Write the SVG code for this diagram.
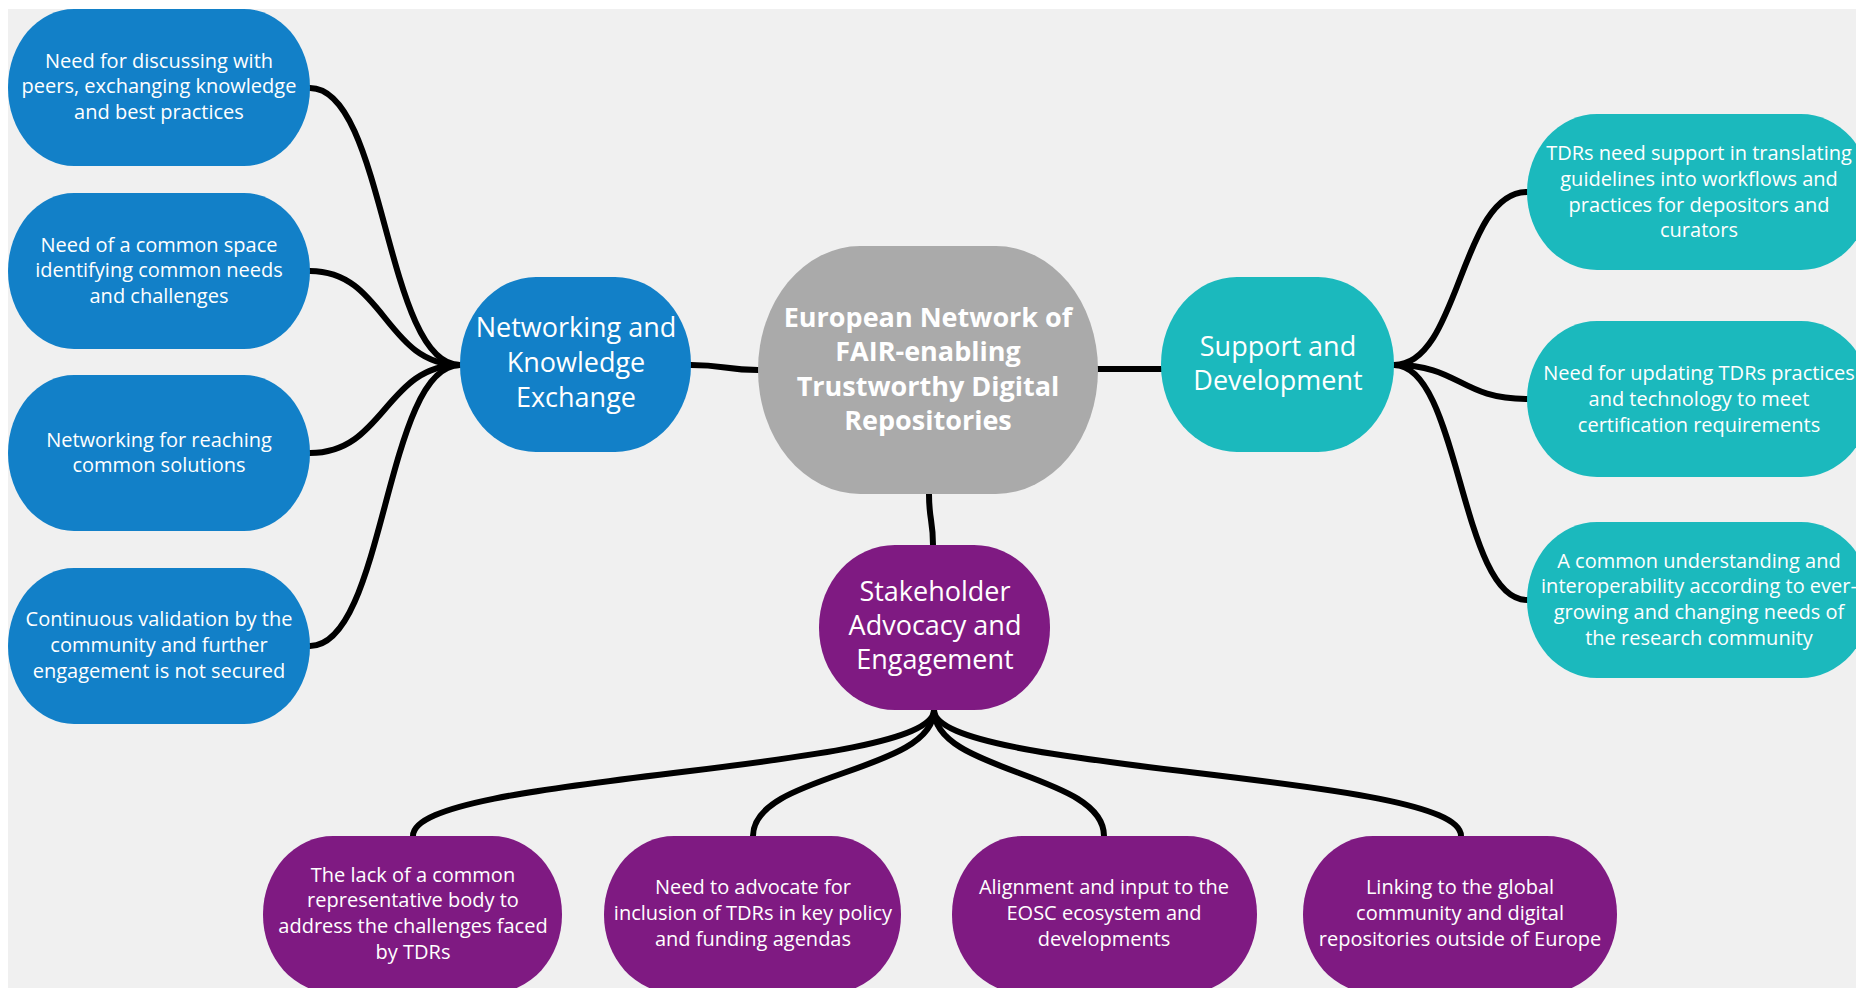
<svg xmlns="http://www.w3.org/2000/svg" width="1856" height="988" viewBox="0 0 1856 988">
<style>
.bg{fill:#f0f0f0}
.blue{fill:#1280c8}
.teal{fill:#1bb9bd}
.purple{fill:#7f1a82}
.gray{fill:#aaaaaa}
.t{font-family:"Open Sans","Noto Sans",sans-serif;fill:#ffffff;text-anchor:middle}
.s{font-size:20px}
.m{font-size:27px}
.c{font-size:27px;font-weight:bold}
.con path{fill:none;stroke:#000;stroke-width:6;stroke-linecap:round}
</style>
<rect x="0" y="0" width="1856" height="988" fill="#ffffff"/>
<rect class="bg" x="8" y="9" width="1848" height="979"/>
<g class="con" id="connectors">
<path d="M460,365 C385,365 385,88 310,88"/>
<path d="M460,365 C385,365 385,271 310,271"/>
<path d="M460,365 C385,365 385,453 310,453"/>
<path d="M460,365 C385,365 385,646 310,646"/>
<path d="M691,365 C725,365 725,370 758,370"/>
<path d="M1098,369 L1161,369"/>
<path d="M929,494 C929,520 933,520 933,545"/>
<path d="M1394,365 C1460,365 1460,192 1527,192"/>
<path d="M1394,365 C1460,365 1460,399 1527,399"/>
<path d="M1394,365 C1460,365 1460,600 1527,600"/>
<path d="M934,710 C934,773 413,773 413,836"/>
<path d="M934,710 C934,773 753,773 753,836"/>
<path d="M934,710 C934,773 1104,773 1104,836"/>
<path d="M934,710 C934,773 1461,773 1461,836"/>
</g>
<g id="center">
<rect class="gray" x="758" y="246" width="340" height="248" rx="102" ry="124"/>
<text class="t c" x="928" y="327">European Network of</text>
<text class="t c" x="928" y="361">FAIR-enabling</text>
<text class="t c" x="928" y="396">Trustworthy Digital</text>
<text class="t c" x="928" y="430">Repositories</text>
</g>
<g id="nke">
<rect class="blue" x="460" y="277" width="231" height="175" rx="76" ry="87"/>
<text class="t m" x="576" y="337">Networking and</text>
<text class="t m" x="576" y="372">Knowledge</text>
<text class="t m" x="576" y="407">Exchange</text>
</g>
<g id="sd">
<rect class="teal" x="1161" y="277" width="233" height="175" rx="76" ry="87"/>
<text class="t m" x="1278" y="356">Support and</text>
<text class="t m" x="1278" y="390">Development</text>
</g>
<g id="sae">
<rect class="purple" x="819" y="545" width="231" height="165" rx="76" ry="82"/>
<text class="t m" x="935" y="601">Stakeholder</text>
<text class="t m" x="935" y="635">Advocacy and</text>
<text class="t m" x="935" y="669">Engagement</text>
</g>
<g id="l1">
<rect class="blue" x="8" y="9" width="302" height="157" rx="66" ry="78"/>
<text class="t s" x="159" y="68">Need for discussing with</text>
<text class="t s" x="159" y="93">peers, exchanging knowledge</text>
<text class="t s" x="159" y="119">and best practices</text>
</g>
<g id="l2">
<rect class="blue" x="8" y="193" width="302" height="156" rx="66" ry="78"/>
<text class="t s" x="159" y="252">Need of a common space</text>
<text class="t s" x="159" y="277">identifying common needs</text>
<text class="t s" x="159" y="303">and challenges</text>
</g>
<g id="l3">
<rect class="blue" x="8" y="375" width="302" height="156" rx="66" ry="78"/>
<text class="t s" x="159" y="447">Networking for reaching</text>
<text class="t s" x="159" y="472">common solutions</text>
</g>
<g id="l4">
<rect class="blue" x="8" y="568" width="302" height="156" rx="66" ry="78"/>
<text class="t s" x="159" y="626">Continuous validation by the</text>
<text class="t s" x="159" y="652">community and further</text>
<text class="t s" x="159" y="678">engagement is not secured</text>
</g>
<g id="r1">
<rect class="teal" x="1527" y="114" width="344" height="156" rx="70" ry="78"/>
<text class="t s" x="1699" y="160">TDRs need support in translating</text>
<text class="t s" x="1699" y="186">guidelines into workflows and</text>
<text class="t s" x="1699" y="212">practices for depositors and</text>
<text class="t s" x="1699" y="237">curators</text>
</g>
<g id="r2">
<rect class="teal" x="1527" y="321" width="344" height="156" rx="70" ry="78"/>
<text class="t s" x="1699" y="380">Need for updating TDRs practices</text>
<text class="t s" x="1699" y="406">and technology to meet</text>
<text class="t s" x="1699" y="432">certification requirements</text>
</g>
<g id="r3">
<rect class="teal" x="1527" y="522" width="344" height="156" rx="70" ry="78"/>
<text class="t s" x="1699" y="568">A common understanding and</text>
<text class="t s" x="1699" y="593">interoperability according to ever-</text>
<text class="t s" x="1699" y="619">growing and changing needs of</text>
<text class="t s" x="1699" y="645">the research community</text>
</g>
<g id="b1">
<rect class="purple" x="263" y="836" width="299" height="157" rx="70" ry="78"/>
<text class="t s" x="413" y="882">The lack of a common</text>
<text class="t s" x="413" y="907">representative body to</text>
<text class="t s" x="413" y="933">address the challenges faced</text>
<text class="t s" x="413" y="959">by TDRs</text>
</g>
<g id="b2">
<rect class="purple" x="604" y="836" width="297" height="157" rx="70" ry="78"/>
<text class="t s" x="753" y="894">Need to advocate for</text>
<text class="t s" x="753" y="920">inclusion of TDRs in key policy</text>
<text class="t s" x="753" y="946">and funding agendas</text>
</g>
<g id="b3">
<rect class="purple" x="952" y="836" width="305" height="157" rx="70" ry="78"/>
<text class="t s" x="1104" y="894">Alignment and input to the</text>
<text class="t s" x="1104" y="920">EOSC ecosystem and</text>
<text class="t s" x="1104" y="946">developments</text>
</g>
<g id="b4">
<rect class="purple" x="1303" y="836" width="314" height="157" rx="70" ry="78"/>
<text class="t s" x="1460" y="894">Linking to the global</text>
<text class="t s" x="1460" y="920">community and digital</text>
<text class="t s" x="1460" y="946">repositories outside of Europe</text>
</g>
</svg>
